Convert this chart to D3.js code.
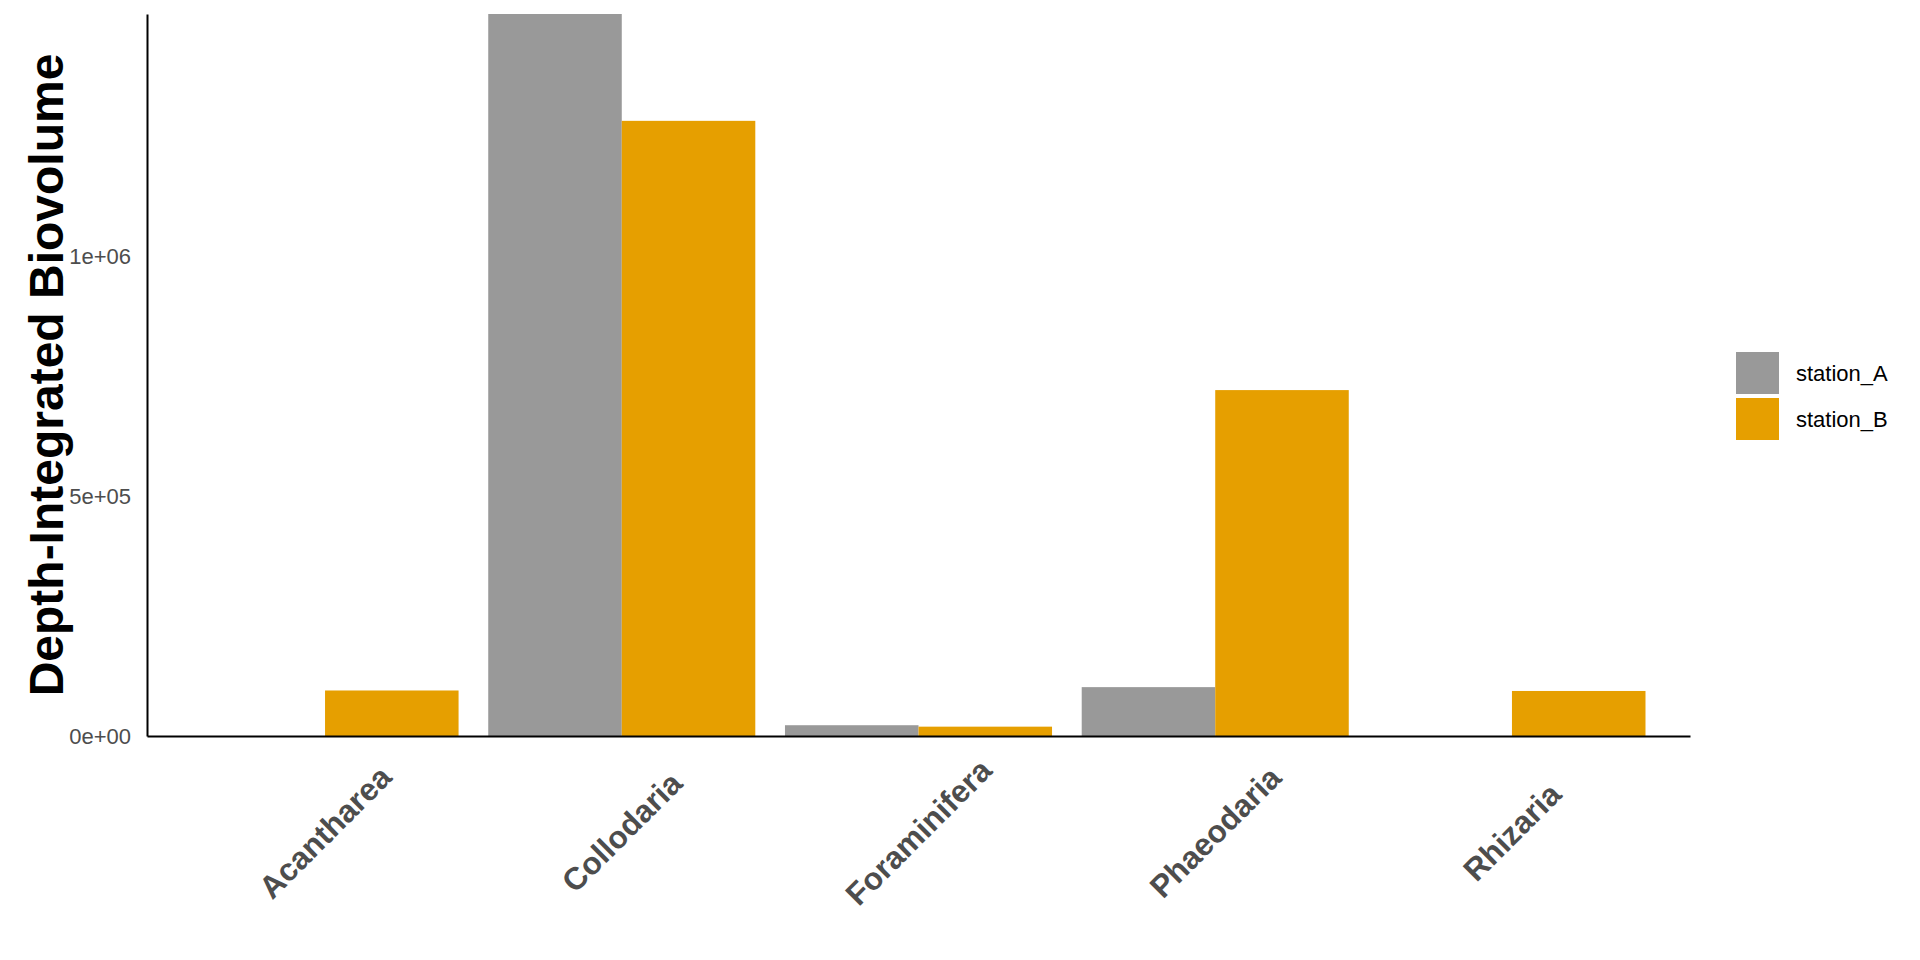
<!DOCTYPE html>
<html lang="en">
<head>
    <meta charset="UTF-8">
    <title>Depth-Integrated Biovolume</title>
    <script src="https://d3js.org/d3.v7.min.js"></script>
    <style>
        body {
            margin: 0;
            background: #fff;
            font-family: "Liberation Sans", Arial, sans-serif;
        }
        svg { display: block; }
        .axis path { stroke: #000; stroke-width: 2px; }
        .axis line { display: none; }
        .y-axis text { font-size: 22px; fill: #4d4d4d; }
        .x-axis text { font-size: 31.5px; font-weight: bold; fill: #4d4d4d; }
        .legend text { font-size: 22px; fill: #000; }
    </style>
</head>
<body>
    <script>
        // taxa and station values
        const categories = ["Acantharea", "Collodaria", "Foraminifera", "Phaeodaria", "Rhizaria"];
        const stations = ["station_A", "station_B"];
        const stationA = [null, 1507000, 22500, 102000, null];
        const stationB = [95000, 1284000, 19500, 722000, 94000];
        const yTicks = [0, 500000, 1000000];
        const yTickLabels = ["0e+00", "5e+05", "1e+06"];
        const colors = ["#999999", "#E69F00"];

        const width = 1920, height = 960;
        const plot = { left: 147, right: 1690, top: 14, bottom: 736 };

        const svg = d3.select("body")
            .append("svg")
            .attr("width", width)
            .attr("height", height);

        // scales
        const x = d3.scaleBand()
            .domain(categories)
            .range([plot.left, plot.right])
            .paddingInner(0.1)
            .paddingOuter(0.15);

        const xSub = d3.scaleBand()
            .domain(stations)
            .range([0, x.bandwidth()]);

        const y = d3.scaleLinear()
            .domain([0, d3.max(stationA.concat(stationB))])
            .range([plot.bottom, plot.top]);

        const color = d3.scaleOrdinal().domain(stations).range(colors);

        // bars
        const rows = [];
        categories.forEach((c, i) => {
            rows.push({ cat: c, st: "station_A", v: stationA[i] });
            rows.push({ cat: c, st: "station_B", v: stationB[i] });
        });

        svg.append("g")
            .selectAll("rect")
            .data(rows.filter(d => d.v != null))
            .enter()
            .append("rect")
            .attr("x", d => x(d.cat) + xSub(d.st))
            .attr("y", d => y(d.v))
            .attr("width", xSub.bandwidth())
            .attr("height", d => y(0) - y(d.v))
            .attr("fill", d => color(d.st));

        // y axis
        svg.append("g")
            .attr("class", "axis y-axis")
            .attr("transform", `translate(${plot.left},0)`)
            .call(d3.axisLeft(y)
                .tickValues(yTicks)
                .tickFormat((d, i) => yTickLabels[i])
                .tickSize(0)
                .tickSizeOuter(0)
                .tickPadding(16));

        // x axis
        svg.append("g")
            .attr("class", "axis x-axis")
            .attr("transform", `translate(0,${plot.bottom})`)
            .call(d3.axisBottom(x).tickSize(0).tickSizeOuter(0))
            .selectAll("text")
            .attr("y", 0)
            .attr("dy", "0.35em")
            .attr("text-anchor", "middle")
            .attr("transform", "translate(0,96) rotate(-45)");

        // y axis title
        svg.append("text")
            .attr("transform", `translate(63,${(plot.top + plot.bottom) / 2}) rotate(-90)`)
            .attr("text-anchor", "middle")
            .style("font-size", "48px")
            .style("font-weight", "bold")
            .style("fill", "#000")
            .text("Depth-Integrated Biovolume");

        // legend
        const legend = svg.append("g")
            .attr("class", "legend")
            .attr("transform", "translate(1736,352)");

        const items = legend.selectAll("g")
            .data(stations)
            .enter()
            .append("g")
            .attr("transform", (d, i) => `translate(0,${i * 46})`);

        items.append("rect")
            .attr("width", 43)
            .attr("height", 42)
            .attr("fill", d => color(d));

        items.append("text")
            .attr("x", 60)
            .attr("y", 21)
            .attr("dy", "0.35em")
            .text(d => d);
    </script>
</body>
</html>
